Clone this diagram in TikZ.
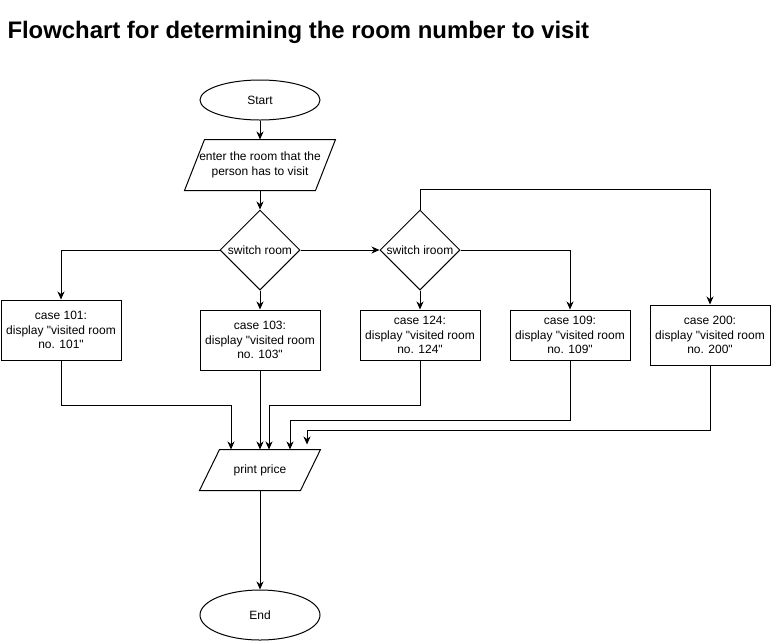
\documentclass[tikz,border=0pt]{standalone}
\usepackage{fontspec}
\newfontfamily\chartfont{Liberation Sans}
\usetikzlibrary{shapes.geometric}
\usetikzlibrary{arrows.meta}
\tikzset{>={Stealth[length=8pt,width=7pt,inset=2.5pt]}}
\tikzset{
  every node/.style={font=\chartfont\fontsize{12}{14.4}\selectfont},
  terminal/.style={draw,ellipse,minimum width=120pt,inner sep=0pt},
  decision/.style={draw,diamond,minimum width=80pt,minimum height=80pt,aspect=1,inner sep=0pt},
  casebox/.style={draw,rectangle,minimum width=120pt,inner sep=0pt,align=center},
  iobox/.style={rectangle,inner sep=0pt,align=center},
  link/.style={->,line width=1pt}
}

\begin{document}
\begin{tikzpicture}[x=1pt,y=-1pt,line width=1pt]
  \useasboundingbox (0,0) rectangle (771,641);

  % title
  \node[anchor=base west,inner sep=0pt,font=\chartfont\fontsize{23.9}{28}\selectfont\bfseries]
    (title) at (7,38) {Flowchart for determining the room number to visit};

  % main column
  \node[terminal,minimum height=40pt] (start) at (260,100) {Start};
  \node[iobox,minimum width=130pt,minimum height=50pt] (inp) at (260,165)
    {enter the room that the\\person has to visit};
  \node[decision] (sw1) at (260,250) {\makebox[0pt]{switch room}};
  \node[decision] (sw2) at (420,250) {\makebox[0pt]{switch iroom}};
  \node[iobox,minimum width=100pt,minimum height=40pt] (pp) at (260,470) {print price};
  \node[terminal,minimum height=50pt] (stop) at (260,615) {End};

  % slanted outlines of the input/output boxes
  \foreach \p in {inp,pp}
    \draw ([xshift=10pt]\p.north west) -- ([xshift=10pt]\p.north east)
      -- ([xshift=-10pt]\p.south east) -- ([xshift=-10pt]\p.south west) -- cycle;

  % the cases
  \foreach \rn/\x/\y/\h in {101/61/330/60,103/260/340/60,124/420/335/50,109/570/335/50,200/710/335/60}
    \node[casebox,minimum height=\h pt] (c\rn) at (\x,\y)
      {case \rn:\\display "visited room\\no. \rn"};

  \draw[link] (start.south) -- (inp.north);
  \draw[link] (inp.south) -- (sw1.north);
  \draw[link] (sw1.east) -- (sw2.west);
  \draw[link] (sw1.west) -| (c101.north);
  \draw[link] (sw1.south) -- (c103.north);
  \draw[link] (sw2.south) -- (c124.north);
  \draw[link] (sw2.east) -| (c109.north);
  \draw[link] (sw2.north) -- ++(0,-20) -| (c200.north);

  % all cases join at print price
  \draw[link] (c101.south) -- ++(0,45) -| ([xshift=-29pt]pp.north);
  \draw[link] (c103.south) -- (pp.north);
  \draw[link] (c124.south) -- ++(0,45) -| ([xshift=9pt]pp.north);
  \draw[link] (c109.south) -- ++(0,60) -| ([xshift=30pt]pp.north);
  \draw[link] (c200.south) -- ++(0,65) -| ([xshift=47pt,yshift=5pt]pp.north);
  \draw[link] (pp.south) -- (stop.north);
\end{tikzpicture}
\end{document}
